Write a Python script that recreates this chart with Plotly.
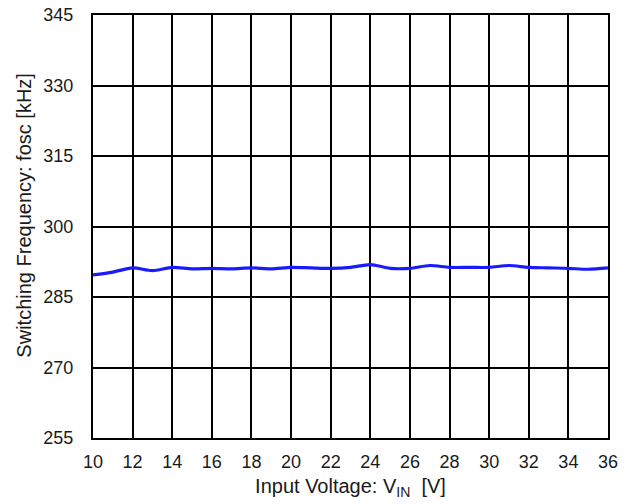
import plotly.graph_objects as go

vin = [10, 11, 12, 13, 14, 15, 16, 17, 18, 19, 20, 21, 22, 23, 24, 25, 26, 27, 28, 29, 30, 31, 32, 33, 34, 35, 36]
fosc = [289.7, 290.3, 291.2, 290.6, 291.3, 291.0, 291.1, 291.0, 291.2, 291.0, 291.3, 291.2, 291.1, 291.3, 291.9, 291.1, 291.1, 291.7, 291.3, 291.3, 291.3, 291.7, 291.3, 291.2, 291.1, 290.9, 291.2]
x_ticks = list(range(10, 37, 2))
y_ticks = list(range(255, 346, 15))

font_family = "Liberation Sans, Arial, sans-serif"
txt_color = "#1a1a1a"

fig = go.Figure()
fig.add_trace(go.Scatter(
    x=vin, y=fosc, mode="lines",
    line=dict(color="#1a1aff", width=3.2, shape="spline", smoothing=0.8),
    showlegend=False,
))

axis_common = dict(
    showgrid=True, gridcolor="black", gridwidth=2,
    showline=True, linecolor="black", linewidth=2, mirror=True,
    zeroline=False, ticks="", automargin=False,
    tickfont=dict(family=font_family, size=18, color=txt_color),
)

fig.update_xaxes(
    range=[10, 36], tickvals=x_ticks, ticktext=[str(v) for v in x_ticks],
    title=dict(text="Input Voltage: V<sub>IN</sub>  [V]", font=dict(family=font_family, size=20, color=txt_color), standoff=8),
    ticklabelstandoff=6,
    **axis_common,
)
fig.update_yaxes(
    range=[255, 345], tickvals=y_ticks, ticktext=[str(v) for v in y_ticks],
    ticklabelstandoff=14,
    **axis_common,
)

fig.add_annotation(
    text="Switching Frequency: fosc [kHz]", textangle=-90,
    xref="paper", yref="paper", x=-0.134, y=0.528,
    xanchor="center", yanchor="middle", showarrow=False,
    font=dict(family=font_family, size=20, color=txt_color),
)

fig.update_layout(
    width=635, height=504,
    margin=dict(l=93, r=27, t=15, b=66),
    paper_bgcolor="white", plot_bgcolor="white",
)

fig.write_html("out.html", config={"displayModeBar": False},
               post_script="document.body.style.margin='0';document.body.style.overflow='hidden';")
